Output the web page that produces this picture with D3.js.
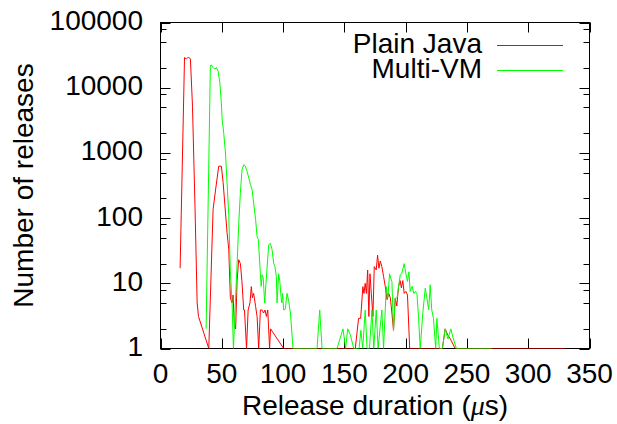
<!DOCTYPE html>
<html>
<head>
<meta charset="utf-8">
<script src="https://cdn.jsdelivr.net/npm/d3@7/dist/d3.min.js"></script>
<style>
body { margin: 0; background: #ffffff; }
svg { display: block; }
text { font-family: 'Liberation Sans', Arial, Helvetica, sans-serif; font-size: 28px; fill: #000000; }
</style>
</head>
<body>
<div id="chart"></div>
<script>
// release duration (us) / number of releases
var plainX = [16, 19.6, 21.2, 22.8, 24.4, 26.1, 28.2, 29.9, 31, 39.4, 42.9, 44.8, 47.5, 49.7, 51.1,
    54.3, 55.7, 57, 58.4, 59.2, 60.3, 61.3, 62.5, 63.8, 65.2, 66.4, 67.9, 68.5, 70.2, 71.5,
    73, 74.1, 75, 76, 77.6, 78.8, 80.1, 81.5, 82.8, 84.1, 85.3, 86.4, 87.5, 89, 89.8, 100.5,
    158.9, 161.6, 163.3, 165.1, 166, 167, 168, 169, 170, 170.9, 172, 173.3, 174.4, 176, 177.1,
    178.2, 179.3, 180.6, 182, 183.4, 184.8, 186.2, 187.5, 188.8, 190.1, 191.5, 192.8, 194.2,
    195.5, 196.5, 197.7, 198.8, 200.2, 201.5, 203.3, 230, 232.2, 234.5, 236.5, 240.4, 330];
var plainY = [17, 29000, 27600, 29600, 27500, 5200, 135, 5, 3.1, 1, 135, 260, 625, 625, 350,
    60, 33, 6, 5, 6.6, 2.2, 2, 11, 23, 20, 11, 3.9, 3.9, 1, 3.9,
    5, 8.9, 6, 7, 4.4, 3.1, 1, 3.9, 3.9, 3.5, 3.9, 3.1, 3.9, 1, 2, 1,
    1, 2.9, 2.9, 8.9, 7, 10, 7, 16, 3.1, 14, 7, 3.1, 18, 16, 27,
    17, 22, 18, 12.7, 8.9, 5.6, 7, 6, 3.5, 1.9, 5.9, 4.5, 8.9,
    11, 8.5, 11, 7, 7.5, 6.6, 1, 1, 2, 1.6, 1.4, 1, 1];

var multiX = [37.2, 40.7, 41.3, 42.9, 44.3, 45.6, 47, 48.4, 49.6, 50.3, 51.6, 53, 54.3, 55.7,
    57, 58.4, 59.5, 61.1, 62.5, 63.8, 65.2, 66.5, 67.9, 69.2, 70.6, 72, 73.3, 74.7, 76, 77.6,
    78.8, 79.8, 81.5, 82.1, 82.9, 83.8, 85, 87, 88.3, 89.6, 91, 92.4, 93.4, 94.5, 95.1, 96.4,
    97.3, 98.3, 99, 99.6, 100.5, 101.8, 103.2, 104.5, 106, 108.1, 127.7, 129.9, 131.8, 144,
    148.9, 151, 152.7, 155, 157.6, 162, 163.5, 165, 167, 168.5, 170.5, 172.5, 174, 176, 177.5,
    180.6, 182, 184.2, 185.5, 186.9, 187.8, 188.8, 190.1, 191.5, 193, 195.6, 196.8, 198.8,
    200.2, 201.5, 202.7, 203.7, 205.3, 206.7, 208, 209.2, 210.5, 211.9, 214, 216, 217.3,
    218.8, 220, 221.3, 222.7, 224.5, 225.5, 227.5, 230, 232.2, 234.5, 236.9, 238.5, 241.4, 270];
var multiY = [2, 21600, 22400, 20400, 19200, 20400, 18000, 12000, 6000, 3300, 2000, 1000, 350, 110,
    15, 5, 1, 5, 20, 80, 250, 550, 660, 630, 520, 415, 330, 275, 170, 95,
    52, 47, 14, 9, 13.5, 12, 5, 18, 39, 41, 33, 20, 18, 12.7, 5, 14,
    11, 6.3, 5, 7, 3.9, 4, 7, 5.5, 3.5, 1, 1, 3.9, 1, 1,
    2, 1, 2, 1.6, 1, 1, 1.9, 1, 3.9, 1, 1, 3.9, 1, 3.9, 1,
    3.9, 1, 8.9, 6, 14, 12, 10.7, 1.9, 5.9, 6, 13.5, 14, 20,
    14, 10.7, 15, 7.5, 9, 7, 7.5, 7, 3.1, 1, 3.5, 8.4, 6,
    3.9, 9.5, 3.9, 2.9, 1, 2.9, 1, 1, 2, 1.4, 2, 1.5, 1, 1];

var seriesNames = ['Plain Java', 'Multi-VM'];
var seriesColors = ['#ff0000', '#00ff00'];
var xTicks = [0, 50, 100, 150, 200, 250, 300, 350];
var yTicks = [1, 10, 100, 1000, 10000, 100000];
var yMinorSteps = [2, 5, 8];

(function(d3) {
    'use strict';
    var width = 617;
    var height = 424;
    var left = 160.5, right = 589.5, top = 22.5, bottom = 348.5;

    var svg = d3.select('#chart').append('svg')
        .attr('width', width)
        .attr('height', height);

    var x = d3.scaleLinear().domain([0, 350]).range([left, right]);
    var y = d3.scaleLog().domain([1, 100000]).range([bottom, top]);

    var label = function(tx, ty, str, anchor, rot) {
        return svg.append('text')
            .attr('transform', 'translate(' + tx + ',' + ty + ')' + (rot ? ' rotate(' + rot + ')' : ''))
            .attr('text-anchor', anchor)
            .text(str);
    };

    // ticks, mirrored on every side
    var ticks = svg.append('g').attr('stroke', '#000').attr('stroke-width', 1);
    xTicks.forEach(function(d) {
        var px = Math.round(x(d)) + 0.5;
        ticks.append('line').attr('x1', px).attr('x2', px).attr('y1', bottom).attr('y2', bottom - 10);
        ticks.append('line').attr('x1', px).attr('x2', px).attr('y1', top).attr('y2', top + 10);
        label(x(d), 383, d, 'middle');
    });
    yTicks.forEach(function(d, i) {
        var py = Math.round(y(d)) + 0.5;
        ticks.append('line').attr('x1', left).attr('x2', left + 10).attr('y1', py).attr('y2', py);
        ticks.append('line').attr('x1', right).attr('x2', right - 10).attr('y1', py).attr('y2', py);
        label(143, y(d) + 7.5, d, 'end');
        if (i === yTicks.length - 1) return;
        yMinorSteps.forEach(function(m) {
            var my = Math.round(y(d * m)) + 0.5;
            ticks.append('line').attr('x1', left).attr('x2', left + 6).attr('y1', my).attr('y2', my);
            ticks.append('line').attr('x1', right).attr('x2', right - 6).attr('y1', my).attr('y2', my);
        });
    });

    svg.append('rect')
        .attr('x', left).attr('y', top)
        .attr('width', right - left).attr('height', bottom - top)
        .attr('fill', 'none').attr('stroke', '#000').attr('stroke-width', 1);

    label(33, (top + bottom) / 2, 'Number of releases', 'middle', -90);
    var xl = label((left + right) / 2, 415, 'Release duration (', 'middle');
    xl.append('tspan').attr('font-family', "'Liberation Serif', serif").attr('font-style', 'italic').text('\u03bc');
    xl.append('tspan').text('s)');

    // data, clipped at the frame so the "1" counts blend into the bottom border
    svg.append('clipPath').attr('id', 'clip').append('rect')
        .attr('x', left).attr('y', top)
        .attr('width', right - left).attr('height', bottom - top);

    var line = d3.line()
        .x(function(d) { return x(d[0]); })
        .y(function(d) { return y(d[1]); });

    var series = [d3.zip(plainX, plainY), d3.zip(multiX, multiY)];
    var plot = svg.append('g').attr('clip-path', 'url(#clip)');
    series.forEach(function(s, i) {
        plot.append('path')
            .attr('d', line(s))
            .attr('fill', 'none')
            .attr('stroke', seriesColors[i])
            .attr('stroke-width', 1);
    });

    // key
    seriesNames.forEach(function(name, i) {
        var ky = 45 + i * 25;
        label(482, ky + 7.5, name, 'end');
        svg.append('line')
            .attr('x1', 497).attr('x2', 563)
            .attr('y1', ky + 0.5).attr('y2', ky + 0.5)
            .attr('stroke', seriesColors[i]).attr('stroke-width', 1);
    });
})(d3);
</script>
</body>
</html>
